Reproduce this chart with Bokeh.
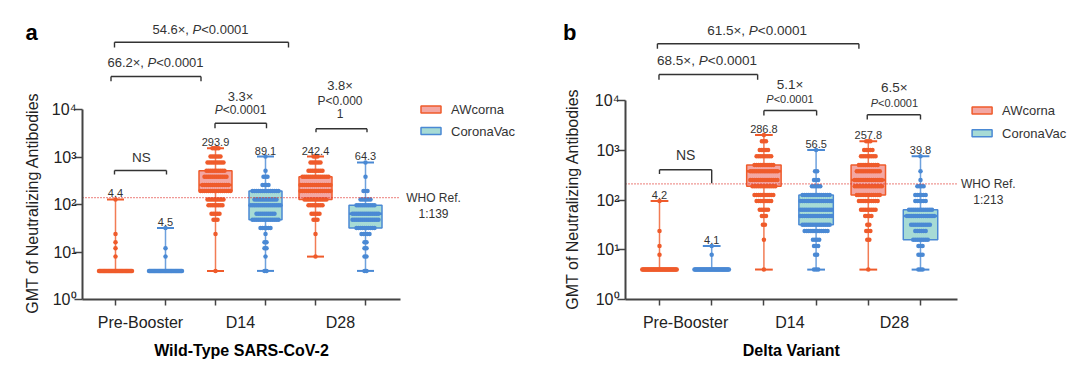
import numpy as np
from bokeh.plotting import figure
from bokeh.models import ColumnDataSource, FixedTicker, Range1d
from bokeh.layouts import row
from bokeh.core.properties import value
from bokeh.embed import file_html
from bokeh.resources import INLINE

FONT = "Liberation Sans"

# ---------------- data ----------------
timepoints = ["Pre-Booster", "D14", "D28"]
vaccines = ["AWcorna", "CoronaVac"]
# group order: Pre AW, Pre CoronaVac, D14 AW, D14 CoronaVac, D28 AW, D28 CoronaVac

# Panel a: Wild-Type SARS-CoV-2 (titre levels and number of subjects at each level)
a_levels = [
    [4, 8, 12, 16, 24, 128],
    [4, 8, 12, 32],
    [4, 24, 48, 64, 96, 128, 192, 256, 384, 512, 768, 1024, 1536],
    [4, 8, 12, 16, 24, 32, 48, 64, 96, 128, 192, 256, 384, 512, 1024],
    [8, 24, 48, 64, 96, 128, 192, 256, 384, 512, 768, 1024],
    [4, 8, 12, 16, 24, 32, 48, 64, 96, 128, 192, 384, 768],
]
a_counts = [
    [40, 1, 1, 1, 1, 1],
    [40, 1, 1, 1],
    [1, 1, 3, 5, 8, 9, 16, 14, 12, 10, 9, 6, 4],
    [2, 1, 2, 2, 1, 6, 14, 10, 16, 12, 14, 4, 3, 1, 1],
    [1, 1, 3, 5, 8, 12, 16, 16, 14, 8, 6, 3],
    [2, 2, 2, 2, 5, 10, 14, 14, 10, 6, 3, 1, 1],
]
a_q1 = [4, 4, 192, 48, 128, 32]
a_med = [4, 4, 256, 96, 256, 64]
a_q3 = [4, 4, 512, 192, 384, 96]
a_gmt = ["4.4", "4.5", "293.9", "89.1", "242.4", "64.3"]
a_who = 139

# Panel b: Delta Variant
b_levels = [
    [4, 8, 12, 24, 96],
    [4, 8, 12],
    [4, 16, 32, 48, 64, 96, 128, 192, 256, 384, 512, 768, 1024, 1536, 2048],
    [4, 8, 12, 16, 24, 32, 48, 64, 96, 128, 192, 256, 384, 1024],
    [4, 16, 24, 32, 48, 64, 96, 128, 192, 256, 384, 512, 768, 1024, 1536],
    [4, 8, 12, 16, 24, 32, 48, 64, 96, 128, 192, 256, 384, 768],
]
b_counts = [
    [40, 1, 1, 1, 1],
    [40, 1, 1],
    [1, 1, 2, 3, 5, 8, 10, 12, 14, 14, 10, 8, 5, 3, 1],
    [3, 2, 3, 4, 12, 14, 16, 16, 16, 14, 5, 3, 2, 1],
    [1, 2, 3, 2, 4, 8, 10, 12, 14, 14, 12, 10, 8, 5, 3],
    [3, 3, 3, 8, 6, 10, 14, 12, 6, 6, 4, 1, 1, 1],
]
b_q1 = [4, 4, 192, 32, 128, 16]
b_med = [4, 4, 384, 48, 256, 48]
b_q3 = [4, 4, 512, 128, 512, 64]
b_gmt = ["4.2", "4.1", "286.8", "56.5", "257.8", "39.8"]
b_who = 213

# fold-change / significance annotations: (x, log10 y, [(text, style)], size)
a_texts = [
    (1.70, 5.684, [("54.6×, ", "normal"), ("P", "italic"), ("<0.0001", "normal")], 13),
    (0.80, 4.989, [("66.2×, ", "normal"), ("P", "italic"), ("<0.0001", "normal")], 13),
    (2.50, 4.280, [("3.3×", "normal")], 13),
    (2.50, 3.985, [("P", "italic"), ("<0.0001", "normal")], 12),
    (4.49, 4.505, [("3.8×", "normal")], 13),
    (4.49, 4.189, [("P<0.000", "normal")], 12),
    (4.49, 3.909, [("1", "normal")], 12),
    (0.52, 2.996, [("NS", "normal")], 13.5),
]
# brackets: (x0, x1, log10 y, log10 left-end, log10 right-end)
a_brackets = [
    (-0.02, 3.46, 5.417, 5.305, 5.305),
    (-0.09, 1.71, 4.695, 4.596, 4.596),
    (1.99, 3.02, 3.712, 3.606, 3.606),
    (4.01, 5.03, 3.594, 3.522, 3.522),
    (-0.02, 1.02, 2.716, 2.632, 2.632),
]
b_texts = [
    (1.87, 5.418, [("61.5×, ", "normal"), ("P", "italic"), ("<0.0001", "normal")], 13.5),
    (0.91, 4.814, [("68.5×, ", "normal"), ("P", "italic"), ("<0.0001", "normal")], 13.5),
    (2.50, 4.330, [("5.1×", "normal")], 13.5),
    (2.50, 4.042, [("P", "italic"), ("<0.0001", "normal")], 11),
    (4.50, 4.276, [("6.5×", "normal")], 13.5),
    (4.50, 3.954, [("P", "italic"), ("<0.0001", "normal")], 11),
    (0.50, 2.920, [("NS", "normal")], 14),
]
b_brackets = [
    (-0.04, 3.82, 5.150, 5.049, 5.049),
    (-0.01, 1.88, 4.532, 4.425, 4.425),
    (2.00, 3.01, 3.807, 3.706, 3.706),
    (3.98, 5.00, 3.720, 3.625, 3.625),
    (0.00, 1.00, 2.612, 2.530, 2.342),
]

LINE_COLORS = ["#EF5B2B", "#4A89D4"]
FILL_COLORS = ["#F3A7A3", "#A7DBD5"]
WHO_COLOR = "#E0302A"
INK = "#333333"

W, H = 540, 377
AXIS_Y_PX = 299          # pixel row of the x axis (value 10^0)

ARIAL = {".": .278, ",": .278, " ": .278, "×": .584, "P": .667, "<": .584,
         "N": .722, "S": .667}


def text_width(s, size, table=ARIAL):
    return sum(table.get(c, .556) for c in s) * size


def rich_text(p, x, ylog, parts, size):
    widths = [text_width(t, size) for t, _ in parts]
    off = -sum(widths) / 2
    for (t, style), w in zip(parts, widths):
        p.text(x=[x], y=[10 ** ylog], text=[t], x_offset=off, text_align="left",
               text_baseline="middle", text_font=value(FONT),
               text_font_size=f"{size}px", text_font_style=style, text_color=INK)
        off += w


def make_panel(levels, counts, q1, med, q3, gmt, who, title, letter, texts, brackets,
               axis_px, ux, pxdec, first_px, letter_xy, legend_x, legend_y, who_x,
               ylab_xy):
    x_start = -first_px / ux                 # frame spans the whole figure
    ax_start = -(first_px - axis_px) / ux    # where the y axis is drawn
    ax_end = 5.7
    p = figure(width=W, height=H, y_axis_type="log",
               x_range=Range1d(x_start, x_start + W / ux),
               y_range=Range1d(10 ** (-(H - AXIS_Y_PX) / pxdec), 10 ** (AXIS_Y_PX / pxdec)),
               output_backend="svg", toolbar_location=None,
               min_border_left=0, min_border_right=0, min_border_top=0,
               min_border_bottom=0)
    p.outline_line_color = None
    p.grid.visible = False
    p.background_fill_color = "white"
    p.border_fill_color = "white"

    pos = list(range(6))
    box_w, cap_w = 0.66, 0.34
    col = [LINE_COLORS[i % 2] for i in pos]
    fill = [FILL_COLORS[i % 2] for i in pos]
    lo = [min(l) for l in levels]
    hi = [max(l) for l in levels]

    src = ColumnDataSource(dict(
        x=pos, lo=lo, hi=hi, q1=q1, med=med, q3=q3, col=col, fill=fill,
        bl=[x - box_w / 2 for x in pos], br=[x + box_w / 2 for x in pos],
        cl=[x - cap_w / 2 for x in pos], cr=[x + cap_w / 2 for x in pos],
        gmt=gmt))

    # whiskers
    p.segment(x0="x", y0="lo", x1="x", y1="hi", color="col", line_width=1.5,
              line_alpha=0.8, source=src)
    p.segment(x0="cl", y0="lo", x1="cr", y1="lo", color="col", line_width=2, source=src)
    p.segment(x0="cl", y0="hi", x1="cr", y1="hi", color="col", line_width=2, source=src)
    # box fill
    p.quad(left="bl", right="br", bottom="q1", top="q3", fill_color="fill",
           line_color=None, source=src)

    # individual subjects
    dx, dy, dc = [], [], []
    for g, (lv, cn) in enumerate(zip(levels, counts)):
        for v, n in zip(lv, cn):
            w = min((n - 1) * 0.04, 0.66)
            offs = np.linspace(-w / 2, w / 2, n) if n > 1 else np.array([0.0])
            dx.extend(list(g + offs))
            dy.extend([v] * n)
            dc.extend([LINE_COLORS[g % 2]] * n)
    p.scatter(x=dx, y=dy, color=dc, size=4.5, line_width=0)

    # box outline and median
    p.quad(left="bl", right="br", bottom="q1", top="q3", fill_color=None,
           line_color="col", line_width=1.5, source=src)
    p.segment(x0="bl", y0="med", x1="br", y1="med", color="col", line_width=2.5,
              source=src)

    # GMT labels
    p.text(x="x", y="hi", text="gmt", source=src, text_align="center",
           text_baseline="bottom", y_offset=-2, text_font=value(FONT),
           text_font_size="11px", text_color=INK)

    # WHO reference line
    p.segment(x0=[ax_start], y0=[who], x1=[ax_end], y1=[who], line_color=WHO_COLOR,
              line_width=1.3, line_dash="1 2")
    p.text(x=[who_x], y=[who], text=["WHO Ref."], text_align="center",
           text_baseline="middle", text_font=value(FONT), text_font_size="12px",
           text_color=INK)
    p.text(x=[who_x], y=[who], text=[f"1:{who}"], y_offset=16, text_align="center",
           text_baseline="middle", text_font=value(FONT), text_font_size="12px",
           text_color=INK)

    # legend
    leg_y = [10 ** legend_y[0], 10 ** legend_y[1]]
    p.rect(x=[legend_x, legend_x], y=leg_y, width=20, height=7, width_units="screen",
           height_units="screen", fill_color=FILL_COLORS, line_color=LINE_COLORS,
           line_width=1.5)
    p.text(x=[legend_x, legend_x], y=leg_y, text=vaccines, x_offset=20,
           text_align="left", text_baseline="middle", text_font=value(FONT),
           text_font_size="13px", text_color=INK)

    # brackets
    for (bx0, bx1, by, bl, brr) in brackets:
        p.segment(x0=[bx0, bx0, bx1], y0=[10 ** by, 10 ** by, 10 ** by],
                  x1=[bx1, bx0, bx1], y1=[10 ** by, 10 ** bl, 10 ** brr],
                  line_color=INK, line_width=1.4)
    for (tx, ty, parts, size) in texts:
        rich_text(p, tx, ty, parts, size)

    # panel letter
    p.text(x=[letter_xy[0]], y=[10 ** letter_xy[1]], text=[letter],
           text_font=value(FONT), text_font_size="22px", text_font_style="bold",
           text_align="center", text_baseline="middle", text_color="black")

    # y-axis title
    p.text(x=[ylab_xy[0]], y=[10 ** ylab_xy[1]], text=["GMT of Neutralizing Antibodies"],
           angle=np.pi / 2, text_font=value(FONT), text_font_size="16px",
           text_align="center", text_baseline="middle", text_color="#222222")

    # x-axis title, centred under the drawn axis segment
    p.text(x=[(ax_start + ax_end) / 2], y=[10 ** (-51 / pxdec)], text=[title],
           text_font=value(FONT), text_font_size="16px", text_font_style="bold",
           text_align="center", text_baseline="middle", text_color="black")

    # x axis, drawn at 10^0
    xa = p.xaxis[0]
    xa.fixed_location = 1
    xa.bounds = (ax_start, ax_end)
    xa.ticker = FixedTicker(ticks=[0.5, 2.5, 4.5], minor_ticks=pos)
    xa.major_label_overrides = {0.5: timepoints[0], 2.5: timepoints[1], 4.5: timepoints[2]}
    xa.major_tick_line_color = None
    xa.major_tick_out = 5
    xa.major_tick_in = 0
    xa.minor_tick_out = 6
    xa.minor_tick_in = 0
    xa.minor_tick_line_color = "#444444"
    xa.minor_tick_line_width = 1.5
    xa.major_label_standoff = 8
    xa.major_label_text_font = FONT
    xa.major_label_text_font_size = "16px"
    xa.major_label_text_color = "#222222"
    xa.axis_line_color = "#444444"
    xa.axis_line_width = 2

    # y axis, drawn at the left end of the x axis
    ya = p.yaxis[0]
    ya.fixed_location = ax_start
    ya.bounds = (1, 10000)
    ya.ticker = FixedTicker(ticks=[1, 10, 100, 1000, 10000], minor_ticks=[])
    ya.major_label_overrides = {1: "10⁰", 10: "10¹", 100: "10²", 1000: "10³", 10000: "10⁴"}
    ya.major_tick_out = 8
    ya.major_tick_in = 0
    ya.major_tick_line_color = "#444444"
    ya.major_tick_line_width = 1.5
    ya.minor_tick_line_color = None
    ya.major_label_standoff = -2
    ya.major_label_text_font = FONT
    ya.major_label_text_font_size = "16px"
    ya.major_label_text_color = "#222222"
    ya.axis_line_color = "#444444"
    ya.axis_line_width = 2
    return p


pa = make_panel(a_levels, a_counts, a_q1, a_med, a_q3, a_gmt, a_who,
                "Wild-Type SARS-CoV-2", "a", a_texts, a_brackets,
                axis_px=82, ux=50.0, pxdec=47.5, first_px=115,
                letter_xy=(-1.68, 5.621), legend_x=6.31, legend_y=(4.0, 3.545),
                who_x=6.36, ylab_xy=(-1.66, 2.032))
pb = make_panel(b_levels, b_counts, b_q1, b_med, b_q3, b_gmt, b_who,
                "Delta Variant", "b", b_texts, b_brackets,
                axis_px=85, ux=52.2, pxdec=49.65, first_px=119,
                letter_xy=(-1.72, 5.384), legend_x=6.18, legend_y=(3.807, 3.35),
                who_x=6.30, ylab_xy=(-1.667, 2.024))

layout = row(pa, pb)
open("out.html", "w").write(file_html(layout, INLINE))
